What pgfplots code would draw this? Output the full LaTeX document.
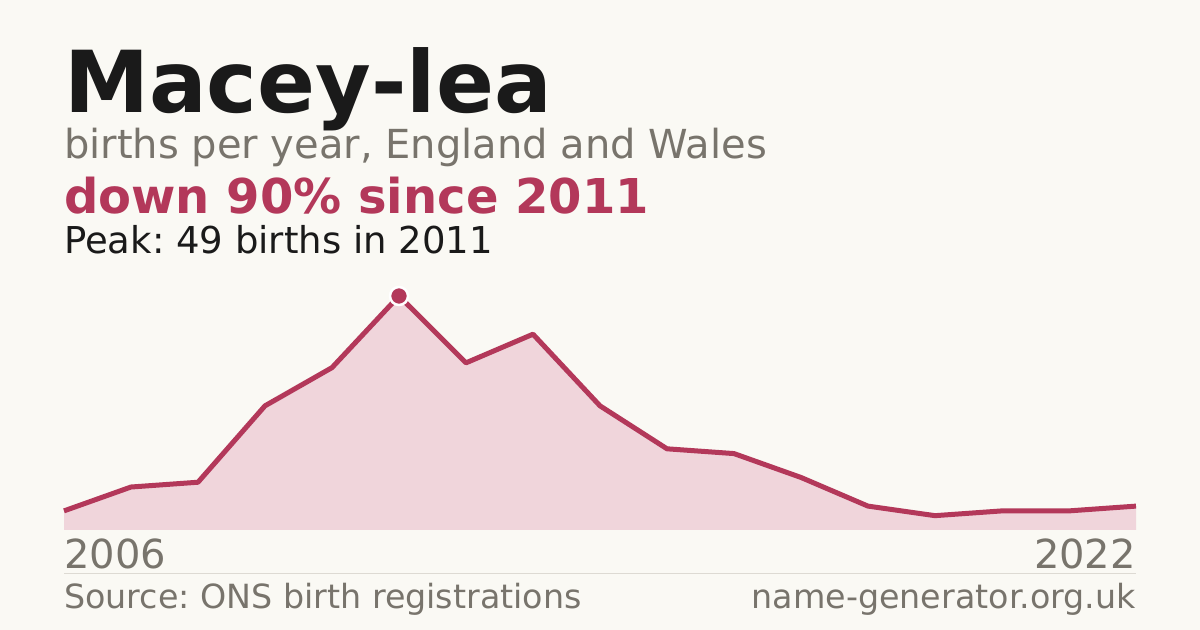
\documentclass[border=0pt]{standalone}
\usepackage{pgfplots}
\pgfplotsset{compat=1.18}
\usepackage{fontspec}
\setmainfont{DejaVu Sans}
\frenchspacing

\definecolor{bgcol}{HTML}{FAF9F4}
\definecolor{inkcol}{HTML}{1A1A1A}
\definecolor{greycol}{HTML}{78746C}
\definecolor{redcol}{HTML}{B3385A}
\definecolor{pinkcol}{HTML}{F0D5DB}
\definecolor{rulecol}{HTML}{DDDAD3}

\pgfplotstableread{
year births
2006 4
2007 9
2008 10
2009 26
2010 34
2011 49
2012 35
2013 41
2014 26
2015 17
2016 16
2017 11
2018 5
2019 3
2020 4
2021 4
2022 5
}\births

\newcommand{\fs}[1]{\fontsize{#1bp}{#1bp}\selectfont}

\begin{document}
\begin{tikzpicture}[x=1bp,y=1bp]
\fill[bgcol] (0,0) rectangle (1200,630);
\useasboundingbox (0,0) rectangle (1200,630);

% headings
\node[anchor=base west,inner sep=0,text=inkcol] at (64,517) {\fs{85.5}\bfseries Macey-lea};
\node[anchor=base west,inner sep=0,text=greycol] at (64,471) {\fs{40}births per year, England and Wales};
\node[anchor=base west,inner sep=0,text=redcol] at (64,416) {\fs{48}\bfseries down 90\% since 2011};
\node[anchor=base west,inner sep=0,text=inkcol] at (64,376) {\fs{37}Peak: 49 births in 2011};

\begin{axis}[
    at={(64bp,100bp)},
    anchor=south west,
    scale only axis,
    width=1072bp,
    height=234bp,
    xmin=2006, xmax=2022,
    ymin=0, ymax=49,
    hide axis,
    clip=false,
]
    \addplot[fill=pinkcol, draw=none] table[x=year,y=births] {\births} \closedcycle;
    \addplot[redcol, line width=5bp, line join=round] table[x=year,y=births] {\births};
    \addplot[only marks, mark=*, mark size=9bp,
        mark options={fill=redcol, draw=white, line width=2.5bp}]
        coordinates {(2011,49)};
\end{axis}

% year labels, rule and footer
\node[anchor=base west,inner sep=0,text=greycol] at (64,61) {\fs{40}2006};
\node[anchor=base east,inner sep=0,text=greycol] at (1136,61) {\fs{40}2022};
\draw[rulecol, line width=1bp] (64,56) -- (1136,56);
\node[anchor=base west,inner sep=0,text=greycol] at (64,21) {\fs{33.3}Source: ONS birth registrations};
\node[anchor=base east,inner sep=0,text=greycol] at (1136,21) {\fs{33.3}name-generator.org.uk};
\end{tikzpicture}
\end{document}
